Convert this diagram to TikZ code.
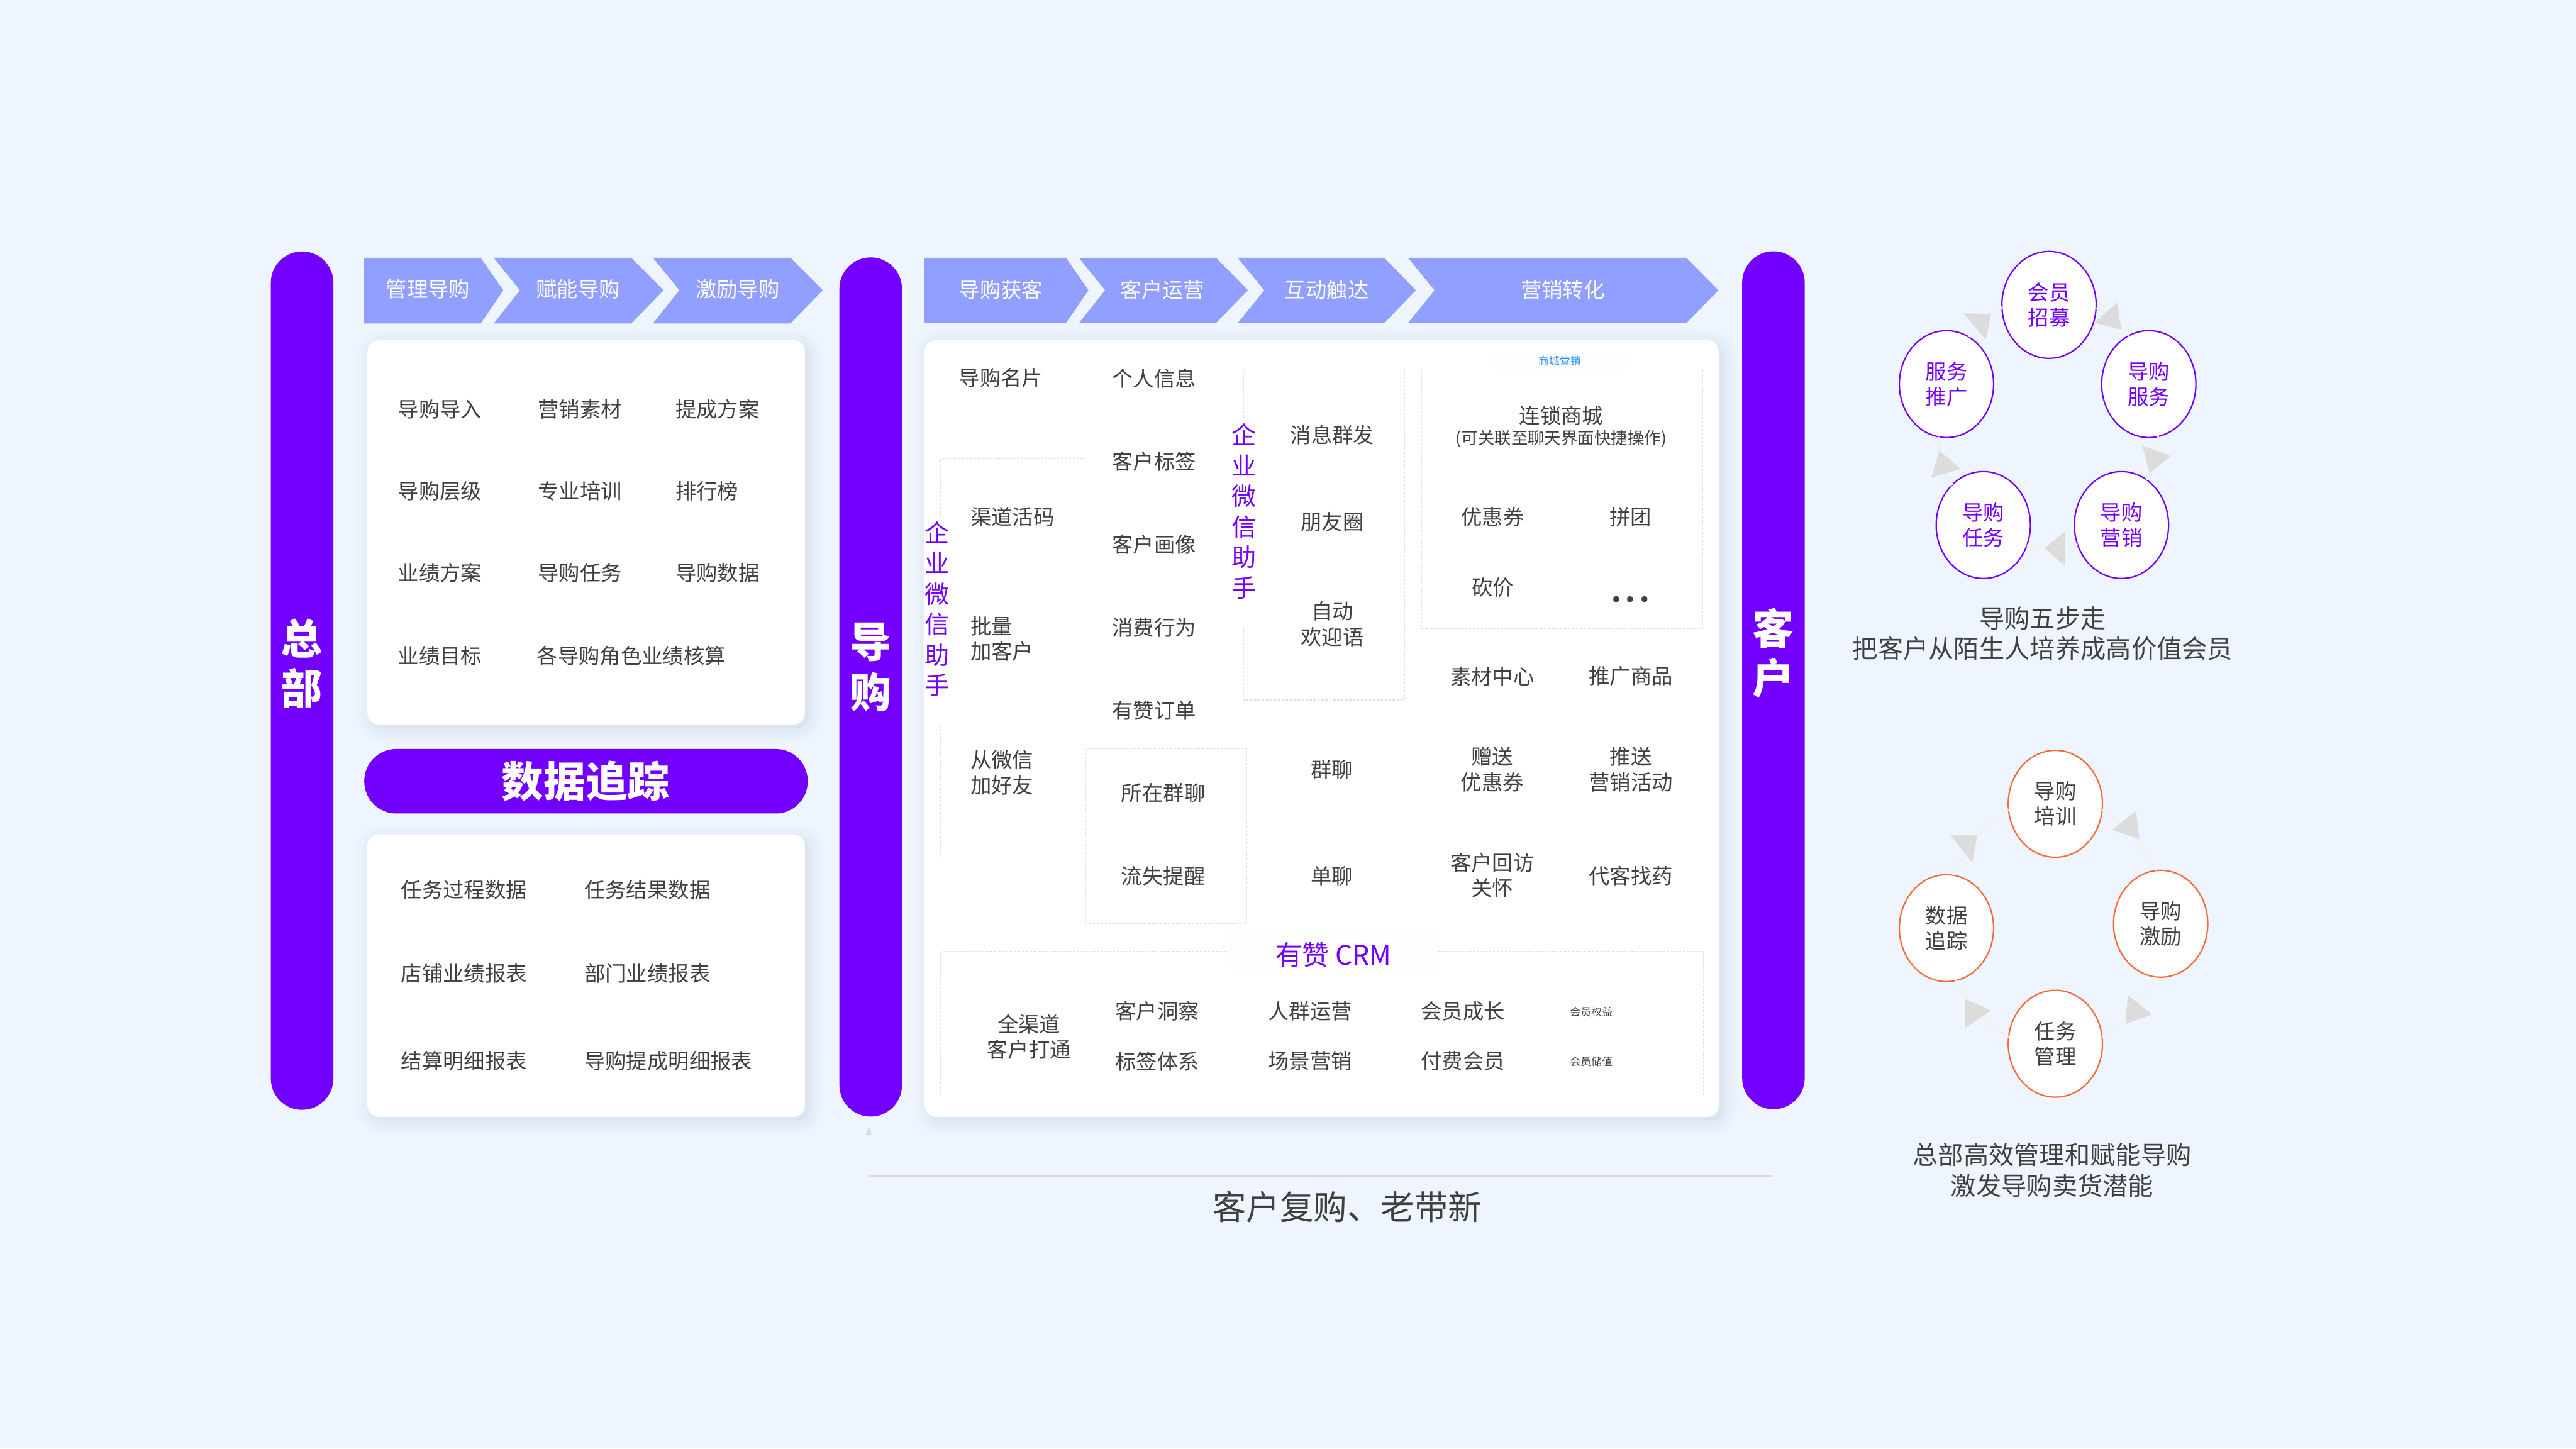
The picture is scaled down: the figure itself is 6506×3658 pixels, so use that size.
\documentclass[tikz,border=0pt]{standalone}
\usepackage{fontspec}
\setmainfont{Noto Sans CJK SC}
\usetikzlibrary{positioning}
\usetikzlibrary{arrows.meta,shapes.geometric}
\definecolor{pagebg}{HTML}{EEF5FF}
\definecolor{purplec}{HTML}{7300FF}
\definecolor{chevronc}{HTML}{919FFF}
\definecolor{textc}{HTML}{404040}
\definecolor{dashc}{HTML}{E0E0E0}
\definecolor{linec}{HTML}{D9D9D9}
\definecolor{shadowc}{HTML}{D5DDEC}
\definecolor{ringc}{HTML}{F1F1F0}
\definecolor{tipc}{HTML}{DCDCDC}
\definecolor{orangec}{HTML}{F26B3A}
\definecolor{bluec}{HTML}{2E8FFF}
\definecolor{patchc}{HTML}{FDFDFB}

\begin{document}
\begin{tikzpicture}[x=0.1pt, y=-0.1pt,
		every node/.style={inner sep=0,outer sep=0,text=textc,font=\fontsize{5.3}{6.4}\selectfont}, align=center,
		softbox/.style={fill=white, rounded corners=3pt,
			preaction={draw=shadowc, fill=shadowc, line width=7pt, opacity=.12, transform canvas={xshift=1pt,yshift=-1pt}},
			preaction={draw=shadowc, fill=shadowc, line width=4.5pt, opacity=.16, transform canvas={xshift=1pt,yshift=-1pt}},
			preaction={draw=shadowc, fill=shadowc, line width=2pt, opacity=.2, transform canvas={xshift=1pt,yshift=-1pt}}},
		barbox/.style={fill=purplec, minimum width=15.8pt, rounded corners=7.9pt},
		bartext/.style={text=white, font=\fontsize{10.5}{12.6}\selectfont\bfseries},
		chevron/.style={fill=chevronc},
		chevtext/.style={text=white},
		dashbox/.style={draw=dashc, line width=.2pt, dash pattern=on .6pt off .4pt},
		vpatch/.style={fill=white, minimum width=6.4pt},
		vtext/.style={text=purplec, font=\fontsize{6.2}{7.7}\selectfont},
		stepcircle/.style={shape=ellipse, fill=white, line width=.35pt, minimum width=23.8pt, minimum height=27pt},
		purplecircle/.style={stepcircle, draw=purplec, text=purplec},
		orangecircle/.style={stepcircle, draw=orangec},
		ringline/.style={draw=ringc, line width=.55pt},
		ringtip/.style={fill=tipc},
		caption/.style={font=\fontsize{6.4}{7.7}\selectfont}]
		
		\useasboundingbox (0,0) rectangle (6506,3658);
		\fill[pagebg] (0,0) rectangle (6506,3658);
		
		%Cards
		\fill[softbox] (928,859) rectangle (2033,1830);
		\fill[softbox] (928,2107) rectangle (2033,2821);
		\fill[softbox] (2335,859) rectangle (4341,2821);
		
		%Chevrons
		\fill[chevron] (920,651) -- (1214,651) -- (1271,733) -- (1214,817) -- (920,817) -- cycle;
		\fill[chevron] (1247,651) -- (1594,651) -- (1676,733) -- (1594,817) -- (1247,817) -- (1313,733) -- cycle;
		\fill[chevron] (1649,651) -- (1996,651) -- (2078,733) -- (1996,817) -- (1649,817) -- (1716,733) -- cycle;
		\fill[chevron] (2335,651) -- (2692,651) -- (2749,733) -- (2692,816) -- (2335,816) -- cycle;
		\fill[chevron] (2725,651) -- (3071,651) -- (3152,733) -- (3071,816) -- (2725,816) -- (2791,733) -- cycle;
		\fill[chevron] (3126,651) -- (3496,651) -- (3576,733) -- (3496,816) -- (3126,816) -- (3193,733) -- cycle;
		\fill[chevron] (3556,651) -- (4259,651) -- (4340,733) -- (4259,816) -- (3556,816) -- (3623,733) -- cycle;
		
		%Dashed boxes
		\draw[dashbox] (2376,1306) -- (2376,1159) -- (2741,1159) -- (2741,2164) -- (2376,2164) -- (2376,1830);
		\draw[dashbox] (2742,1891) rectangle (3149,2333);
		\draw[dashbox] (3141,1054) -- (3141,931) -- (3547,931) -- (3547,1768) -- (3141,1768) -- (3141,1583);
		\draw[dashbox] (3693,931) -- (3590,931) -- (3590,1588) -- (4301,1588) -- (4301,931) -- (4211,931);
		\draw[dashbox] (2376,2403) rectangle (4303,2771);
		
		%Nodes
		\node[barbox, minimum height=216.8pt] (zb) at (763,1719) {};
		\node[barbox, minimum height=217pt] (dg) at (2199,1735) {};
		\node[barbox, minimum height=216.7pt] (kh) at (4479,1718) {};
		\node[bartext] (zbt) at (762,1675) {总\\部};
		\node[bartext] (dgt) at (2199,1685) {导\\购};
		\node[bartext] (kht) at (4479,1650) {客\\户};
		
		\node[chevtext] (h1) at (1081,731) {管理导购};
		\node[chevtext] (h2) at (1460,731) {赋能导购};
		\node[chevtext] (h3) at (1863,731) {激励导购};
		\node[chevtext] (h4) at (2528,732) {导购获客};
		\node[chevtext] (h5) at (2936,732) {客户运营};
		\node[chevtext] (h6) at (3351,732) {互动触达};
		\node[chevtext] (h7) at (3947,732) {营销转化};
		
		\node (a11) [anchor=west] at (1005,1033) {导购导入};
		\node (a12) [right=35.4pt of a11.west, anchor=west] {营销素材};
		\node (a13) [right=35pt of a11.west, anchor=west, xshift=35.1pt] {提成方案};
		\node (a21) [below=20.7pt of a11.west, anchor=west] {导购层级};
		\node (a22) [below=20.7pt of a12.west, anchor=west] {专业培训};
		\node (a23) [below=20.7pt of a13.west, anchor=west] {排行榜};
		\node (a31) [below=20.6pt of a21.west, anchor=west] {业绩方案};
		\node (a32) [below=20.6pt of a22.west, anchor=west] {导购任务};
		\node (a33) [below=20.6pt of a23.west, anchor=west] {导购数据};
		\node (a41) [below=21.1pt of a31.west, anchor=west] {业绩目标};
		\node (a42) [below=21.1pt of a32.west, anchor=west, xshift=-.3pt] {各导购角色业绩核算};
		
		\node[fill=purplec, minimum width=112pt, minimum height=16.3pt, rounded corners=8.1pt] (b0) at (1480,1973) {};
		\node[text=white, font=\fontsize{10.6}{13}\selectfont\bfseries] (b0t) at (1479,1973) {数据追踪};
		
		\node (b11) [anchor=west] at (1013,2248) {任务过程数据};
		\node (b12) [right=46.3pt of b11.west, anchor=west] {任务结果数据};
		\node (b21) [below=21.1pt of b11.west, anchor=west] {店铺业绩报表};
		\node (b22) [below=21.1pt of b12.west, anchor=west] {部门业绩报表};
		\node (b31) [below=22.1pt of b21.west, anchor=west] {结算明细报表};
		\node (b32) [below=22.1pt of b22.west, anchor=west] {导购提成明细报表};
		
		\node (c1) at (2528,955) {导购名片};
		\node (c2) [anchor=west] at (2451,1305) {渠道活码};
		\node[align=left] (c3) [below=30.9pt of c2.west, anchor=west] {批量\\加客户};
		\node[align=left] (c4) [below=33.7pt of c3.west, anchor=west] {从微信\\加好友};
		
		\node (d1) [anchor=west] at (2809,955) {个人信息};
		\node (d2) [below=21pt of d1.west, anchor=west] {客户标签};
		\node (d3) [below=21pt of d2.west, anchor=west] {客户画像};
		\node (d4) [below=21pt of d3.west, anchor=west] {消费行为};
		\node (d5) [below=21pt of d4.west, anchor=west] {有赞订单};
		\node (d6) at (2938,2003) {所在群聊};
		\node (d7) [below=21pt of d6.center, anchor=center] {流失提醒};
		
		\node (e1) at (3365,1099) {消息群发};
		\node (e2) [below=21.9pt of e1.center, anchor=center] {朋友圈};
		\node (e3) [below=25.8pt of e2.center, anchor=center] {自动\\欢迎语};
		\node (e4) at (3364,1944) {群聊};
		\node (e5) [below=26.9pt of e4.center, anchor=center] {单聊};
		
		\node (f1) at (3943,1049) {连锁商城};
		\node[font=\fontsize{4.2}{5}\selectfont] (f2) at (3943,1108) {(可关联至聊天界面快捷操作)};
		\node (f3) at (3770,1305) {优惠券};
		\node (f4) at (4118,1305) {拼团};
		\node (f5) [below=17.8pt of f3.center, anchor=center] {砍价};
		\node[font=\fontsize{7}{7}\selectfont\bfseries] (f6) at (4118,1514) {.\,.\,.};
		\node (f7) at (3769,1708) {素材中心};
		\node (f8) at (4119,1708) {推广商品};
		\node (f9) [below=23.5pt of f7.center, anchor=center] {赠送\\优惠券};
		\node (f10) [below=23.5pt of f8.center, anchor=center] {推送\\营销活动};
		\node (f11) [below=26.8pt of f9.center, anchor=center] {客户回访\\关怀};
		\node (f12) [below=26.9pt of f10.center, anchor=center] {代客找药};
		
		\node (g1) at (2599,2619) {全渠道\\客户打通};
		\node (g2) at (2923,2554) {客户洞察};
		\node (g3) [below=12.6pt of g2.center, anchor=center] {标签体系};
		\node (g4) at (3309,2554) {人群运营};
		\node (g5) [below=12.6pt of g4.center, anchor=center] {场景营销};
		\node (g6) at (3695,2554) {会员成长};
		\node (g7) [below=12.6pt of g6.center, anchor=center] {付费会员};
		\node[font=\fontsize{2.7}{3.2}\selectfont] (g8) at (4019,2556) {会员权益};
		\node[font=\fontsize{2.7}{3.2}\selectfont] (g9) [below=12.5pt of g8.center, anchor=center] {会员储值};
		
		%Patches
		\node[vpatch, minimum height=47.1pt] (p1) at (2366,1541) {};
		\node[vpatch, minimum height=52pt] (p2) at (3126,1317) {};
		\node[vtext] (p1t) at (2367,1538) {企\\业\\微\\信\\助\\手};
		\node[vtext] (p2t) at (3142,1291) {企\\业\\微\\信\\助\\手};
		\node[fill=patchc, minimum width=35.7pt, minimum height=3.7pt] (p3) at (3938,912) {};
		\node[text=bluec, font=\fontsize{2.7}{3.2}\selectfont] (p3t) at (3939,911) {商城营销};
		\node[fill=patchc, rounded corners=2pt, minimum width=52.5pt, minimum height=10.9pt] (p4) at (3365,2402) {};
		\node[text=purplec, font=\fontsize{6.8}{8}\selectfont] (p4t) at (3368,2411) {有赞 CRM};
		
		%Step circles
		\node[purplecircle] (s1) at (5175,770) {会员\\招募};
		\node[purplecircle] (s2) at (5427,970) {导购\\服务};
		\node[purplecircle] (s3) at (5358,1326) {导购\\营销};
		\node[purplecircle] (s4) at (5009,1326) {导购\\任务};
		\node[purplecircle] (s5) at (4916,970) {服务\\推广};
		\node[caption] (s0) at (5159,1600) {导购五步走\\把客户从陌生人培养成高价值会员};
		
		\node[orangecircle] (t1) at (5191,2030) {导购\\培训};
		\node[orangecircle] (t2) at (5457,2333) {导购\\激励};
		\node[orangecircle] (t3) at (5191,2636) {任务\\管理};
		\node[orangecircle] (t4) at (4916,2344) {数据\\追踪};
		\node[caption] (t0) at (5183,2955) {总部高效管理和赋能导购\\激发导购卖货潜能};
		
		\node[font=\fontsize{8.5}{10}\selectfont] (r0) at (3403,3048) {客户复购、老带新};
		\coordinate (r1) at (4475,2845);
		\coordinate (r2) at (2194,2846);
		
		%Lines
		\draw[ringline] (s1.-4) to[bend left=16] (s2.112);
		\draw[ringline] (s2.-80) to[bend left=14] (s3.60);
		\draw[ringline] (s3.204) to[bend left=8] (s4.-25);
		\draw[ringline] (s4.128) to[bend left=14] (s5.262);
		\draw[ringline] (s5.65) to[bend left=16] (s1.183);
		\fill[ringtip] (5290,815) -- (5348,763) -- (5357,833) -- cycle;
		\fill[ringtip] (4959,791) -- (5029,793) -- (5015,858) -- cycle;
		\fill[ringtip] (5411,1125) -- (5483,1152) -- (5429,1194) -- cycle;
		\fill[ringtip] (5164,1385) -- (5215,1342) -- (5215,1430) -- cycle;
		\fill[ringtip] (4898,1138) -- (4952,1184) -- (4878,1206) -- cycle;
		
		\draw[ringline] (t1.-7) to[bend left=14] (t2.95);
		\draw[ringline] (t2.-95) to[bend left=14] (t3.8);
		\draw[ringline] (t3.172) to[bend left=14] (t4.-80);
		\draw[ringline] (t4.83) to[bend left=14] (t1.187);
		\fill[ringtip] (5334,2096) -- (5395,2048) -- (5403,2119) -- cycle;
		\fill[ringtip] (4926,2109) -- (4994,2110) -- (4981,2178) -- cycle;
		\fill[ringtip] (5374,2514) -- (5436,2562) -- (5368,2586) -- cycle;
		\fill[ringtip] (4962,2523) -- (5029,2552) -- (4964,2596) -- cycle;
		
		\draw[draw=linec, line width=.25pt, -{Triangle[length=2pt,width=1.4pt]}] (r1) -- ++(0,125) -| (r2);
	\end{tikzpicture}
\end{document}
